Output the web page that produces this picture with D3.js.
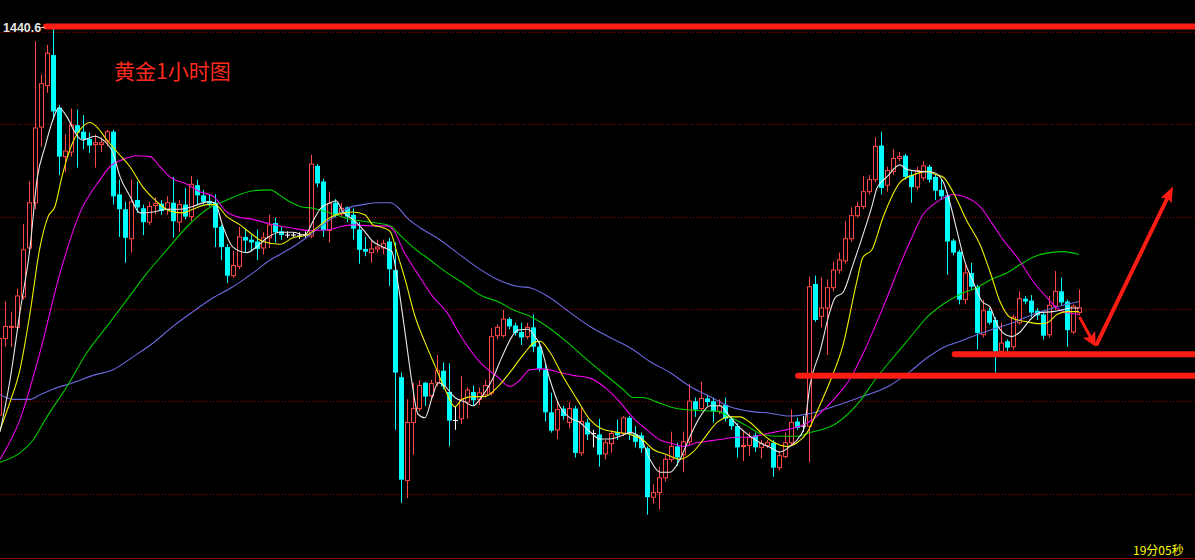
<!DOCTYPE html>
<html><head><meta charset="utf-8">
<script src="https://cdn.jsdelivr.net/npm/d3@7"></script>
<style>html,body{margin:0;padding:0;background:#000;overflow:hidden}</style>
</head><body><svg id="c" width="1195" height="560"></svg>
<script>
// ---------- DATA ----------
const firstIndex = -1; // first (partially visible) candle
const openP = [1398.5,
1406.8,1408.0,1408.0,1411.3,1416.6,1421.5,1429.7,1434.2,1437.5,1431.8,
1426.5,1427.0,1429.9,1429.2,1428.4,1427.8,1427.8,1428.2,1429.2,1422.4,
1420.8,1417.6,1421.8,1420.9,1419.4,1421.2,1421.4,1420.8,1421.5,1419.4,
1421.3,1420.0,1423.4,1422.3,1421.7,1421.5,1418.9,1416.7,1413.6,1414.6,
1417.8,1417.5,1417.3,1416.6,1417.7,1419.3,1418.4,1418.0,1418.0,1417.9,
1418.0,1417.9,1425.5,1423.8,1418.5,1421.5,1420.3,1421.0,1420.2,1418.6,
1416.5,1416.1,1416.5,1416.6,1417.3,1414.2,1402.6,1391.4,1397.7,1399.2,
1402.0,1400.6,1402.0,1403.3,1401.0,1397.9,1398.1,1399.9,1401.0,1400.2,
1400.7,1400.9,1407.1,1407.1,1408.9,1408.2,1407.5,1407.0,1408.0,1405.9,
1403.4,1398.8,1396.9,1399.2,1397.7,1399.2,1394.4,1397.7,1396.5,1396.4,
1394.3,1395.4,1396.6,1396.5,1398.2,1396.4,1396.3,1394.9,1389.6,1390.1,
1391.7,1393.7,1395.1,1394.2,1395.6,1400.0,1399.2,1400.3,1400.0,1398.9,
1399.6,1398.1,1397.3,1395.1,1395.2,1396.3,1395.0,1395.2,1395.5,1392.8,
1394.0,1395.5,1397.8,1397.3,1397.3,1412.7,1409.2,1410.1,1412.3,1414.2,
1415.2,1417.6,1420.1,1421.1,1422.7,1424.0,1427.7,1423.4,1424.9,1426.3,
1426.6,1424.5,1423.2,1424.2,1425.4,1424.3,1422.9,1422.3,1417.4,1416.2,
1411.0,1413.9,1412.4,1407.2,1409.8,1408.8,1405.4,1406.5,1405.9,1408.5,
1411.1,1410.9,1409.8,1409.4,1407.2,1410.3,1411.9,1410.8,1407.5,1409.6];
const highP = [1406.9,
1410.8,1409.7,1412.2,1419.2,1423.8,1439.0,1435.4,1438.6,1440.6,1432.1,
1428.9,1431.7,1431.6,1431.0,1429.1,1428.9,1428.6,1429.4,1429.4,1424.0,
1421.6,1424.0,1423.8,1421.3,1421.6,1422.1,1421.8,1422.2,1424.3,1421.8,
1423.1,1424.4,1424.0,1422.9,1422.4,1422.4,1419.1,1417.0,1416.3,1418.9,
1418.7,1418.0,1418.6,1418.3,1420.2,1419.9,1418.9,1418.4,1418.3,1418.3,
1418.4,1426.7,1425.7,1424.1,1422.7,1421.9,1421.5,1421.1,1420.9,1419.4,
1417.8,1417.5,1417.5,1417.5,1417.7,1417.2,1403.1,1400.2,1402.0,1402.3,
1402.1,1402.3,1405.0,1404.2,1404.1,1399.4,1402.7,1401.5,1401.7,1401.5,
1402.3,1407.9,1408.3,1409.9,1409.1,1408.5,1408.5,1408.5,1409.4,1406.5,
1404.0,1400.9,1399.9,1399.5,1399.9,1399.5,1399.3,1398.1,1396.9,1398.1,
1395.8,1396.9,1398.0,1398.4,1398.4,1397.3,1396.6,1395.1,1391.0,1392.9,
1394.2,1396.7,1395.5,1396.7,1401.9,1400.4,1402.1,1400.7,1400.4,1400.2,
1400.4,1398.4,1397.6,1396.9,1396.6,1396.6,1395.8,1395.8,1395.8,1394.5,
1396.6,1399.1,1398.2,1398.4,1413.5,1413.6,1413.4,1413.2,1415.1,1416.1,
1419.5,1421.0,1421.6,1424.4,1424.5,1428.6,1429.2,1425.4,1427.3,1427.0,
1426.8,1424.9,1425.4,1426.0,1425.6,1424.5,1424.0,1422.6,1417.6,1416.4,
1414.8,1415.0,1412.6,1411.0,1410.1,1409.1,1408.5,1406.7,1409.4,1411.9,
1411.4,1411.5,1410.1,1409.7,1411.4,1414.1,1413.4,1411.0,1410.5,1412.1];
const lowP = [1396.8,
1405.9,1405.9,1407.7,1411.0,1416.1,1420.8,1427.6,1433.4,1430.5,1424.5,
1424.8,1426.5,1425.3,1427.3,1426.9,1425.3,1427.0,1427.6,1421.3,1417.8,
1415.0,1416.1,1420.4,1418.0,1419.1,1420.2,1420.2,1420.2,1417.7,1418.3,
1419.7,1419.5,1421.3,1421.3,1421.1,1416.7,1415.3,1412.8,1413.4,1414.3,
1416.1,1416.2,1415.3,1415.9,1416.6,1417.2,1417.5,1417.7,1417.8,1417.6,
1417.7,1417.7,1423.2,1417.8,1417.2,1419.9,1420.0,1419.4,1417.5,1414.9,
1415.7,1415.0,1416.1,1415.9,1412.5,1396.9,1389.0,1389.5,1394.2,1398.9,
1399.5,1400.3,1401.6,1401.3,1395.1,1396.9,1397.5,1398.1,1399.6,1399.6,
1400.4,1400.6,1406.7,1406.9,1407.8,1407.1,1406.1,1406.7,1405.3,1403.2,
1397.8,1396.6,1395.9,1398.0,1397.1,1393.9,1394.1,1395.8,1395.0,1392.9,
1393.7,1394.4,1395.8,1396.2,1395.8,1395.0,1394.4,1387.7,1388.9,1388.3,
1391.3,1393.4,1393.0,1392.3,1395.3,1398.3,1398.9,1399.5,1397.7,1398.6,
1397.8,1396.9,1393.9,1393.5,1394.1,1394.5,1393.8,1394.9,1391.8,1392.5,
1393.8,1395.2,1396.9,1396.7,1393.4,1408.6,1408.0,1405.0,1411.9,1413.8,
1414.9,1417.3,1419.9,1420.8,1422.4,1423.7,1422.4,1422.7,1424.5,1426.0,
1424.0,1421.5,1422.9,1423.9,1423.7,1421.8,1421.8,1413.7,1415.8,1410.5,
1410.5,1412.1,1405.6,1406.9,1408.3,1403.1,1405.0,1405.4,1405.6,1408.3,
1410.5,1409.1,1408.8,1406.7,1406.9,1409.9,1410.4,1405.9,1407.3,1409.3];
const closeP = [1406.8,
1408.1,1408.1,1411.4,1416.4,1421.5,1429.6,1434.4,1437.7,1431.4,1426.5,
1427.1,1429.9,1429.1,1428.4,1427.7,1428.0,1428.0,1429.2,1422.2,1420.8,
1417.7,1421.6,1421.0,1419.4,1421.1,1421.4,1420.6,1421.5,1419.5,1421.3,
1420.0,1423.5,1422.3,1421.6,1421.4,1418.8,1416.7,1413.6,1414.7,1417.8,
1417.4,1417.2,1416.5,1417.7,1419.1,1418.3,1418.0,1418.0,1418.0,1417.9,
1418.0,1425.7,1423.6,1418.5,1421.4,1420.1,1420.9,1420.0,1418.7,1416.4,
1416.2,1416.5,1416.7,1417.1,1414.3,1403.1,1391.5,1397.7,1399.2,1401.7,
1400.5,1401.9,1403.3,1401.6,1397.9,1397.9,1400.2,1401.2,1400.1,1400.9,
1401.7,1407.0,1408.0,1408.9,1408.1,1407.4,1406.9,1408.0,1405.9,1403.5,
1398.8,1396.8,1399.1,1398.4,1399.2,1394.4,1397.8,1396.4,1396.5,1394.2,
1395.5,1396.5,1396.3,1398.2,1396.5,1395.6,1394.9,1389.6,1390.1,1391.7,
1393.7,1395.1,1393.9,1395.6,1400.0,1399.1,1400.3,1399.9,1398.9,1399.5,
1398.1,1397.3,1395.0,1395.2,1396.1,1395.0,1395.4,1395.5,1392.8,1394.1,
1395.5,1397.7,1397.1,1397.3,1412.4,1408.8,1410.1,1412.3,1414.2,1415.3,
1417.6,1420.1,1421.1,1422.7,1424.0,1427.6,1423.1,1425.0,1426.3,1426.5,
1424.3,1423.2,1425.0,1425.5,1424.0,1422.8,1422.2,1417.3,1416.1,1411.0,
1413.9,1412.4,1407.4,1409.8,1408.5,1405.4,1406.3,1405.8,1409.1,1411.1,
1410.8,1409.6,1409.3,1407.1,1410.4,1411.9,1410.7,1407.7,1410.3,1410.1];

// moving averages: [candle index, price]
const maWhite = [[-0.9,1396.7],[0.75,1402.3],[2.4,1409.6],[4.1,1416.7],[5.25,1424.0],[6.6,1427.6],[7.9,1430.5],[8.9,1431.8],[10.25,1430.8],[11.6,1429.1],[12.75,1428.3],[14.9,1428.7],[16.25,1428.3],[17.9,1426.9],[19.1,1424.3],[20.75,1422.2],[22.4,1420.4],[24.6,1420.5],[26.9,1420.8],[29.1,1420.8],[31.25,1421.1],[33.6,1421.6],[34.9,1421.5],[36.25,1418.9],[37.9,1416.7],[40.25,1416.1],[41.6,1416.6],[43.6,1417.7],[45.75,1418.3],[47.9,1418.3],[49.9,1418.0],[51.25,1419.5],[52.4,1420.8],[54.1,1421.5],[55.1,1421.7],[56.25,1420.5],[57.9,1419.7],[59.6,1418.6],[61.25,1417.3],[62.9,1416.7],[64.4,1416.2],[65.4,1412.8],[66.6,1407.4],[67.75,1402.0],[68.75,1398.6],[69.9,1398.2],[71.1,1400.4],[72.1,1402.0],[73.25,1401.6],[74.9,1400.4],[76.6,1399.9],[77.9,1399.5],[79.4,1400.5],[81.1,1402.3],[82.75,1404.8],[84.4,1407.0],[85.4,1407.7],[87.1,1407.8],[88.25,1407.0],[89.1,1406.1],[90.75,1402.3],[92.4,1399.4],[94.1,1398.2],[95.75,1397.7],[97.4,1396.7],[99.1,1395.9],[100.75,1395.9],[102.4,1396.2],[104.1,1396.6],[105.75,1396.1],[107.4,1393.7],[109.1,1392.3],[110.75,1392.3],[112.4,1393.7],[114.1,1396.2],[115.75,1398.3],[117.4,1399.5],[119.1,1399.5],[120.75,1398.3],[122.4,1397.1],[124.1,1396.2],[125.75,1395.5],[127.4,1395.0],[129.1,1394.5],[130.75,1395.1],[132.4,1396.2],[133.1,1397.1],[134.1,1401.8],[135.75,1405.4],[137.4,1409.7],[138.25,1411.2],[139.6,1411.8],[141.25,1414.8],[142.9,1418.0],[144.4,1421.1],[145.25,1423.1],[146.9,1424.3],[149.1,1425.6],[150.25,1425.1],[152.4,1424.9],[154.6,1424.8],[156.25,1423.8],[157.4,1421.5],[158.6,1418.4],[159.9,1415.1],[161.25,1413.0],[162.75,1410.8],[164.1,1410.2],[165.25,1408.3],[166.25,1407.4],[167.75,1407.0],[169.1,1407.5],[170.75,1408.8],[172.4,1409.6],[174.6,1409.7],[176.25,1409.9],[177.4,1410.1],[178.9,1410.1]];
const maYellow = [[-0.9,1396.9],[0.75,1399.9],[2.4,1403.4],[4.1,1409.6],[5.75,1416.7],[7.1,1420.0],[8.25,1421.1],[9.4,1424.3],[10.75,1427.3],[12.4,1429.4],[14.1,1430.2],[15.25,1429.7],[16.9,1428.3],[18.6,1427.0],[20.75,1425.4],[22.9,1423.2],[25.25,1421.6],[27.4,1420.6],[29.4,1420.4],[31.25,1420.8],[33.6,1421.3],[34.9,1421.3],[36.9,1420.0],[39.1,1419.1],[41.25,1418.0],[42.9,1417.3],[45.75,1417.0],[47.9,1417.7],[50.25,1418.0],[51.9,1418.8],[54.1,1419.9],[56.25,1420.4],[57.9,1420.5],[59.9,1420.2],[61.25,1419.1],[62.9,1418.8],[64.1,1418.4],[65.25,1416.1],[66.6,1413.2],[68.25,1409.2],[69.9,1406.4],[71.6,1403.8],[73.25,1401.3],[74.9,1399.4],[76.1,1400.2],[77.75,1400.5],[79.9,1400.5],[82.1,1401.6],[84.4,1403.4],[86.6,1405.3],[88.25,1406.4],[89.1,1406.5],[90.75,1405.3],[92.9,1402.7],[95.25,1400.2],[97.4,1398.0],[99.1,1397.1],[101.25,1396.7],[104.1,1396.4],[106.25,1395.8],[107.9,1394.8],[110.25,1394.2],[112.4,1393.7],[114.6,1394.5],[116.25,1395.8],[118.6,1397.7],[120.75,1398.3],[122.4,1398.3],[124.1,1397.7],[126.25,1396.4],[127.9,1395.6],[130.25,1395.1],[131.9,1395.5],[133.6,1396.6],[135.4,1399.1],[137.4,1402.1],[139.6,1406.1],[141.9,1413.0],[142.9,1415.6],[144.4,1416.4],[146.25,1419.9],[149.1,1423.7],[151.25,1424.5],[153.6,1424.9],[155.25,1424.5],[156.25,1424.3],[157.9,1422.7],[160.25,1419.5],[162.4,1417.0],[164.1,1414.0],[165.75,1410.8],[167.4,1409.1],[170.25,1408.6],[172.4,1408.4],[173.6,1408.5],[175.25,1409.4],[176.9,1409.7],[178.9,1409.7]];
const maMagenta = [[-0.9,1393.7],[2.4,1398.0],[5.75,1405.3],[9.1,1413.9],[12.4,1420.4],[15.75,1424.0],[17.4,1425.4],[19.6,1426.2],[21.9,1426.6],[24.1,1426.5],[25.75,1425.4],[27.4,1424.3],[30.25,1423.5],[32.4,1422.7],[34.6,1422.2],[36.9,1420.5],[39.1,1419.9],[41.25,1419.7],[44.1,1419.2],[47.4,1418.8],[50.75,1418.5],[54.1,1418.6],[55.75,1418.9],[57.9,1419.1],[60.75,1419.0],[63.6,1419.0],[64.9,1418.3],[66.25,1416.4],[68.6,1413.9],[71.25,1411.3],[73.6,1409.6],[75.75,1407.2],[79.1,1404.2],[81.9,1402.7],[84.1,1401.6],[85.75,1402.3],[87.4,1403.4],[89.6,1403.5],[92.4,1403.1],[94.6,1402.8],[97.4,1402.5],[100.25,1401.3],[102.4,1399.9],[104.6,1398.2],[106.9,1396.9],[109.1,1395.8],[111.25,1395.4],[112.9,1395.1],[115.25,1395.5],[117.4,1395.7],[119.6,1395.9],[121.9,1396.1],[124.1,1396.1],[126.25,1396.4],[128.6,1396.7],[130.75,1397.0],[132.4,1397.3],[133.75,1397.7],[137.9,1400.1],[140.75,1402.4],[143.25,1405.6],[146.9,1411.2],[149.1,1414.8],[151.25,1418.0],[152.9,1420.2],[154.6,1421.3],[156.9,1422.2],[157.9,1422.4],[159.6,1422.2],[162.4,1421.1],[164.6,1419.1],[166.25,1417.5],[168.6,1415.6],[171.25,1413.0],[173.6,1411.2],[175.25,1410.1],[176.9,1409.6],[178.9,1409.4]];
const maGreen = [[-0.9,1393.4],[2.4,1394.4],[4.6,1395.8],[6.9,1398.3],[10.25,1401.6],[13.6,1405.3],[16.9,1408.1],[20.25,1411.0],[23.6,1413.9],[26.9,1416.4],[30.25,1418.9],[33.6,1420.8],[36.9,1421.8],[39.1,1422.4],[41.25,1422.8],[44.1,1422.9],[45.75,1422.3],[47.4,1421.6],[49.1,1421.1],[51.25,1420.9],[54.1,1420.4],[56.9,1419.8],[59.6,1419.5],[61.9,1419.3],[64.1,1419.0],[65.75,1418.0],[67.9,1416.7],[70.75,1415.3],[73.6,1413.9],[76.25,1412.8],[79.1,1411.5],[82.4,1410.7],[84.6,1409.9],[87.4,1409.2],[90.25,1408.1],[93.6,1406.4],[96.9,1404.5],[100.25,1402.7],[102.9,1401.3],[104.6,1400.4],[106.25,1400.4],[108.6,1399.9],[111.9,1399.2],[115.25,1399.0],[118.6,1398.9],[120.75,1398.3],[123.6,1397.3],[126.25,1396.4],[129.1,1396.2],[131.9,1396.2],[134.1,1396.6],[138.25,1397.5],[142.4,1400.0],[144.9,1402.3],[147.9,1404.7],[150.75,1406.9],[153.6,1409.1],[156.25,1410.5],[159.1,1411.6],[161.9,1412.3],[164.6,1413.3],[166.9,1413.9],[169.1,1414.8],[171.25,1415.6],[174.1,1416.1],[176.25,1416.2],[178.9,1415.9]];
const maBlue = [[-0.9,1400.7],[1.25,1400.2],[4.1,1400.2],[5.75,1400.7],[7.9,1401.3],[11.25,1402.0],[14.6,1402.8],[17.9,1403.4],[21.25,1404.8],[24.6,1406.3],[27.9,1408.1],[31.25,1409.7],[34.6,1411.2],[37.9,1412.4],[41.25,1413.9],[44.1,1415.3],[45.75,1415.9],[48.6,1417.0],[50.75,1418.0],[52.9,1419.1],[55.25,1420.2],[57.4,1421.0],[59.6,1421.3],[61.9,1421.5],[64.1,1421.5],[65.25,1421.1],[66.9,1419.9],[69.1,1418.8],[71.9,1417.7],[75.25,1416.1],[78.6,1414.5],[81.9,1413.2],[85.75,1412.4],[87.4,1412.3],[90.75,1411.2],[94.1,1409.6],[97.4,1408.1],[100.75,1406.9],[104.1,1405.8],[107.4,1404.3],[110.75,1403.1],[114.1,1401.6],[117.4,1400.5],[120.75,1399.4],[124.1,1398.9],[127.4,1398.7],[130.75,1398.4],[133.6,1398.6],[137.4,1399.3],[141.9,1400.3],[147.4,1401.7],[150.75,1403.2],[153.6,1404.7],[156.25,1405.8],[159.1,1406.5],[161.9,1407.2],[164.6,1407.8],[167.9,1408.5],[171.25,1409.4],[174.6,1410.1],[178.9,1410.8]];

const gridPrices = [1440,1430,1420,1410,1400,1390];
const highLabel = "1440.6";
const titleText = "黄金1小时图";
const timerText = "19分05秒";
// hand-drawn annotations (price levels / index positions)
const hLines = [{price:1440.6, from:6.75}, {price:1405.1, from:158.2}, {price:1402.75, from:132.1}];
const arrows = [{from:[179.1,1409.0], to:[181.7,1405.9], w:3, head:14, hw:7},
                {from:[181.9,1406.2], to:[194.6,1423.3], w:4, head:16, hw:6}];

// ---------- DRAW ----------
const W = 1195, H = 560;
const svg = d3.select("#c");
svg.append("rect").attr("width",W).attr("height",H).attr("fill","#000");

const x = d3.scaleLinear().domain([0,179]).range([5.5,1079.5]);
const y = d3.scaleLinear().domain([1390,1440]).range([493.5,32]);

// grid
svg.append("g").selectAll("line").data(gridPrices).join("line")
  .attr("x1",0).attr("x2",W)
  .attr("y1",d=>Math.round(y(d))+0.5).attr("y2",d=>Math.round(y(d))+0.5)
  .attr("stroke","#a00000").attr("stroke-dasharray","1,2").attr("stroke-width",1);
// bottom border
svg.append("line").attr("x1",0).attr("x2",W).attr("y1",H-1.5).attr("y2",H-1.5)
  .attr("stroke","#8a0000").attr("stroke-width",1);

const candles = openP.map((o,i)=>({i:i+firstIndex,o,h:highP[i],l:lowP[i],c:closeP[i]}));
const gC = svg.append("g");
const RED = "#ff4646", CYAN = "#00ffff", WHITE = "#ffffff";
candles.forEach(d=>{
  const cx = x(d.i);
  if (d.c === d.o) {
    gC.append("line").attr("x1",cx).attr("x2",cx).attr("y1",y(d.h)).attr("y2",y(d.l)).attr("stroke",WHITE);
    gC.append("line").attr("x1",cx-2.5).attr("x2",cx+2.5).attr("y1",y(d.o)).attr("y2",y(d.o)).attr("stroke",WHITE);
  } else if (d.c > d.o) {
    const top = y(d.c), bot = y(d.o);
    gC.append("line").attr("x1",cx).attr("x2",cx).attr("y1",y(d.h)).attr("y2",top).attr("stroke",RED);
    gC.append("line").attr("x1",cx).attr("x2",cx).attr("y1",bot).attr("y2",y(d.l)).attr("stroke",RED);
    gC.append("rect").attr("x",cx-2).attr("y",top).attr("width",4).attr("height",Math.max(1,bot-top))
      .attr("fill","#000").attr("stroke",RED).attr("stroke-width",1);
  } else {
    const top = y(d.o), bot = y(d.c);
    gC.append("line").attr("x1",cx).attr("x2",cx).attr("y1",y(d.h)).attr("y2",y(d.l)).attr("stroke",CYAN);
    gC.append("rect").attr("x",cx-2.5).attr("y",top).attr("width",5).attr("height",Math.max(1.2,bot-top))
      .attr("fill",CYAN);
  }
});

// moving averages
const line = d3.line().x(d=>x(d[0])).y(d=>y(d[1])).curve(d3.curveMonotoneX);
[[maBlue,"#6a6ae0"],[maGreen,"#00cc00"],[maMagenta,"#ee00ee"],[maYellow,"#f0f000"],[maWhite,"#e8e8e8"]]
  .forEach(([data,col])=>{
    svg.append("path").attr("d",line(data)).attr("fill","none").attr("stroke",col).attr("stroke-width",1.1);
  });

// annotations
const ANN = "#ff1c14";
svg.append("g").selectAll("line").data(hLines).join("line")
  .attr("x1",d=>x(d.from)).attr("x2",W+10)
  .attr("y1",d=>y(d.price)).attr("y2",d=>y(d.price))
  .attr("stroke",ANN).attr("stroke-width",6).attr("stroke-linecap","round");

arrows.forEach(a=>{
  const x1=x(a.from[0]), y1=y(a.from[1]), x2=x(a.to[0]), y2=y(a.to[1]);
  const dx=x2-x1, dy=y2-y1, len=Math.hypot(dx,dy), ux=dx/len, uy=dy/len;
  const bx=x2-ux*a.head, by=y2-uy*a.head;
  svg.append("line").attr("x1",x1).attr("y1",y1).attr("x2",bx+ux*2).attr("y2",by+uy*2)
    .attr("stroke",ANN).attr("stroke-width",a.w).attr("stroke-linecap","round");
  svg.append("polygon").attr("points",[[x2,y2],[bx-uy*a.hw,by+ux*a.hw],[bx+ux*3,by+uy*3],[bx+uy*a.hw,by-ux*a.hw]].map(p=>p.join(",")).join(" "))
    .attr("fill",ANN);
});

// texts
svg.append("text").attr("x",3).attr("y",31.5).text(highLabel)
  .attr("font-family","Liberation Sans, Arial, sans-serif").attr("font-size",12.5).attr("font-weight","bold")
  .attr("fill","#e6e6e6");
svg.append("line").attr("x1",41).attr("x2",45).attr("y1",27.5).attr("y2",27.5).attr("stroke","#cccccc");
svg.append("text").attr("x",114).attr("y",79).text(titleText)
  .attr("font-family","Noto Sans CJK SC, sans-serif").attr("font-size",21).attr("fill","#ff2a1e");
svg.append("text").attr("x",1133).attr("y",555).text(timerText)
  .attr("font-family","Noto Sans CJK SC, sans-serif").attr("font-size",12).attr("fill","#ffff00");
</script></body></html>
